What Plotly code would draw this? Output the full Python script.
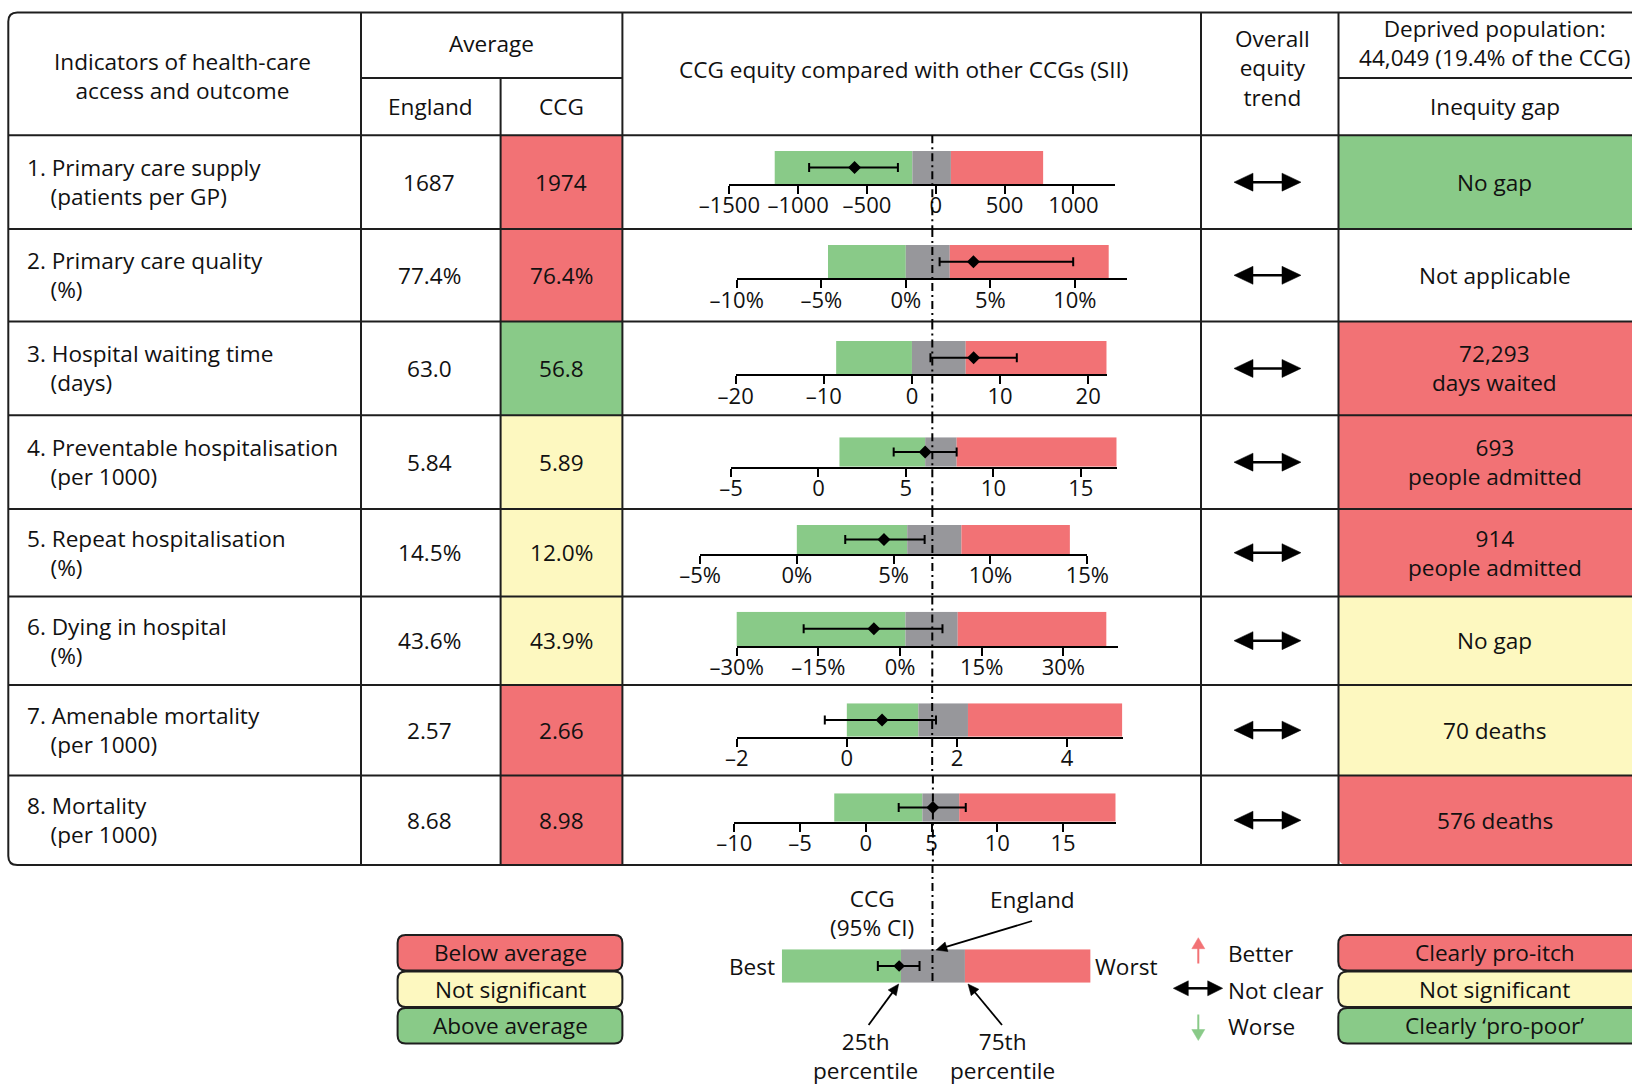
import plotly.graph_objects as go

# ---------------- data ----------------
indicators = ["1. Primary care supply", "2. Primary care quality", "3. Hospital waiting time",
              "4. Preventable hospitalisation", "5. Repeat hospitalisation", "6. Dying in hospital",
              "7. Amenable mortality", "8. Mortality"]
units = ["(patients per GP)", "(%)", "(days)", "(per 1000)", "(%)", "(%)", "(per 1000)", "(per 1000)"]
england_avg = ["1687", "77.4%", "63.0", "5.84", "14.5%", "43.6%", "2.57", "8.68"]
ccg_avg = ["1974", "76.4%", "56.8", "5.89", "12.0%", "43.9%", "2.66", "8.98"]
ccg_status = ["below", "below", "above", "ns", "ns", "ns", "below", "below"]

# SII distribution across CCGs (best .. 25th .. 75th .. worst), England and CCG with 95% CI
sii_best = [-1170, -4.6, -8.6, 1.2, 0.0, -30.3, 0.0, -2.4]
sii_p25 = [-170, 0.0, 0.0, 6.1, 5.7, 1.0, 1.3, 4.3]
sii_p75 = [110, 2.6, 6.1, 7.9, 8.5, 10.6, 2.2, 7.1]
sii_worst = [780, 12.0, 22.1, 17.05, 14.1, 37.9, 5.0, 19.0]
sii_england = [-25, 1.57, 2.31, 6.51, 7.0, 5.93, 1.55, 5.1]
sii_ccg = [-590, 4.0, 7.0, 6.1, 4.5, -4.8, 0.64, 5.1]
sii_ccg_lo = [-920, 2.0, 2.1, 4.3, 2.5, -17.7, -0.4, 2.5]
sii_ccg_hi = [-275, 9.9, 11.9, 7.9, 6.6, 7.8, 1.62, 7.6]

axis_lo = [-1500, -10, -20, -5, -5, -30, -2, -10]
axis_hi = [1300, 13.1, 22.1, 17.05, 15, 40.1, 5.01, 19]
tick_vals = [[-1500, -1000, -500, 0, 500, 1000], [-10, -5, 0, 5, 10], [-20, -10, 0, 10, 20],
             [-5, 0, 5, 10, 15], [-5, 0, 5, 10, 15], [-30, -15, 0, 15, 30], [-2, 0, 2, 4],
             [-10, -5, 0, 5, 10, 15]]
tick_suffix = ["", "%", "", "", "%", "%", "", ""]

trend = ["not clear"] * 8
gap_text = [["No gap"], ["Not applicable"], ["72,293", "days waited"], ["693", "people admitted"],
            ["914", "people admitted"], ["No gap"], ["70 deaths"], ["576 deaths"]]
gap_status = ["pro-poor", "na", "pro-rich", "pro-rich", "pro-rich", "ns", "ns", "pro-rich"]

# legend example bar (schematic scale 0..100)
leg_best, leg_p25, leg_p75, leg_worst = 0, 38.6, 59.3, 100
leg_england, leg_ccg, leg_ccg_lo, leg_ccg_hi = 48.8, 38.0, 31.1, 44.6

# ---------------- style / layout ----------------
W, H = 1632, 1085
FONT = "Open Sans"
FS = 22.6
TFS = 22
TXT = "#111111"
RED, GREEN, YELLOW, GRAY = "#F27275", "#89CA88", "#FDF8C0", "#97979B"
BORDER = "#1e1e1e"
status_color = {"below": RED, "above": GREEN, "ns": YELLOW}
gap_color = {"pro-rich": RED, "pro-poor": GREEN, "ns": YELLOW, "na": None}

T_TOP, T_BOT, T_LEFT, RIGHT = 12.5, 865, 8.3, 1660
COLS = [361, 500.6, 622.4, 1201, 1338.5]
SUB_Y, HEAD_BOT = 78, 135.3
ROWS = [135.3, 229, 321.6, 415.3, 509, 596.4, 684.9, 775.4, 865]
AX_DOM = [(729.3, 1114.7), (736.7, 1127.3), (735.7, 1106.7), (731, 1116.7),
          (700, 1087.3), (736.7, 1118.3), (736.7, 1122.7), (734.3, 1115.7)]
BAR_Y = [(184, 151), (278.3, 245), (374.3, 341), (466.7, 437.3),
         (554, 525), (646, 611.7), (736.7, 703.3), (821.7, 793.3)]
NB = "\u00a0"


def X(x):
    return x / W


def Y(y):
    return 1 - y / H


shapes, annotations = [], []


def line(x0, y0, x1, y1, w=2, color=BORDER, dash=None, layer="above"):
    ln = dict(color=color, width=w)
    if dash:
        ln["dash"] = dash
    shapes.append(dict(type="line", xref="paper", yref="paper", x0=X(x0), y0=Y(y0),
                       x1=X(x1), y1=Y(y1), line=ln, layer=layer))


def rect(x0, y0, x1, y1, fill):
    shapes.append(dict(type="rect", xref="paper", yref="paper", x0=X(x0), y0=Y(y0),
                       x1=X(x1), y1=Y(y1), fillcolor=fill, line=dict(width=0), layer="below"))


def P(x, y):
    return f"{X(x):.6f},{Y(y):.6f}"


def rounded(x0, y0, x1, y1, r, fill, border=True, corners=(1, 1, 1, 1), layer="below"):
    tl, tr, br, bl = corners
    d = []
    d.append("M " + P(x0 + r * tl, y0))
    d.append("L " + P(x1 - r * tr, y0))
    if tr:
        d.append("Q " + P(x1, y0) + " " + P(x1, y0 + r))
    d.append("L " + P(x1, y1 - r * br))
    if br:
        d.append("Q " + P(x1, y1) + " " + P(x1 - r, y1))
    d.append("L " + P(x0 + r * bl, y1))
    if bl:
        d.append("Q " + P(x0, y1) + " " + P(x0, y1 - r))
    d.append("L " + P(x0, y0 + r * tl))
    if tl:
        d.append("Q " + P(x0, y0) + " " + P(x0 + r, y0))
    d.append("Z")
    shapes.append(dict(type="path", xref="paper", yref="paper", path=" ".join(d),
                       fillcolor=fill, line=dict(color=BORDER, width=2 if border else 0),
                       layer=layer))


def head(tx, ty, dx, dy, length, hw, color):
    bx, by = tx - dx * length, ty - dy * length
    nx, ny = -dy, dx
    pts = [(tx, ty), (bx + nx * hw, by + ny * hw), (bx - nx * hw, by - ny * hw)]
    shapes.append(dict(type="path", xref="paper", yref="paper",
                       path="M " + " L ".join(P(a, b) for a, b in pts) + " Z",
                       fillcolor=color, line=dict(color=color, width=0.5), layer="above"))


def arrow(x0, y0, x1, y1, color="#000", w=2, hl=10, hw=5, both=False):
    L = ((x1 - x0) ** 2 + (y1 - y0) ** 2) ** 0.5
    dx, dy = (x1 - x0) / L, (y1 - y0) / L
    sx, sy = (x0 + dx * hl * 0.8, y0 + dy * hl * 0.8) if both else (x0, y0)
    line(sx, sy, x1 - dx * hl * 0.8, y1 - dy * hl * 0.8, w=w, color=color)
    head(x1, y1, dx, dy, hl, hw, color)
    if both:
        head(x0, y0, -dx, -dy, hl, hw, color)


def txt(x, y, s, size=FS, anchor="center", align="center"):
    annotations.append(dict(x=X(x), y=Y(y), xref="paper", yref="paper", text=s,
                            showarrow=False, xanchor=anchor, yanchor="middle", borderpad=0,
                            align=align, font=dict(family=FONT, size=size, color=TXT)))


# ---------------- table ----------------
for i in range(8):
    r0, r1 = ROWS[i], ROWS[i + 1]
    rect(COLS[1], r0, COLS[2], r1, status_color[ccg_status[i]])
    gc = gap_color[gap_status[i]]
    if gc:
        if i == 7:
            rounded(COLS[4], r0, RIGHT, r1, 9, gc, border=False, corners=(0, 0, 0, 1))
        else:
            rect(COLS[4], r0, RIGHT, r1, gc)

# outer border with rounded left corners
rr = 9
shapes.append(dict(type="path", xref="paper", yref="paper", layer="above",
                   path=("M " + P(RIGHT, T_TOP) + " L " + P(T_LEFT + rr, T_TOP) + " Q " + P(T_LEFT, T_TOP)
                         + " " + P(T_LEFT, T_TOP + rr) + " L " + P(T_LEFT, T_BOT - rr) + " Q "
                         + P(T_LEFT, T_BOT) + " " + P(T_LEFT + rr, T_BOT) + " L " + P(RIGHT, T_BOT)),
                   line=dict(color=BORDER, width=2)))
for c in [COLS[0], COLS[2], COLS[3], COLS[4]]:
    line(c, T_TOP, c, T_BOT)
line(COLS[1], SUB_Y, COLS[1], T_BOT)
line(COLS[0], SUB_Y, COLS[2], SUB_Y)
line(COLS[4], SUB_Y, RIGHT, SUB_Y)
for y in ROWS[:-1]:
    line(T_LEFT, y, RIGHT, y)

# header text
txt(182, 75.5, "Indicators of health-care<br>access and outcome")
txt(491.5, 43.7, "Average")
txt(430, 106, "England")
txt(561, 106, "CCG")
txt(903.5, 69.7, "CCG equity compared with other CCGs (SII)")
txt(1272, 67.7, "Overall<br>equity<br>trend")
txt(1494.6, 43, "Deprived population:<br>44,049 (19.4% of the CCG)")
txt(1494.6, 106, "Inequity gap")

# row text
for i in range(8):
    cy = (ROWS[i] + ROWS[i + 1]) / 2
    txt(26, cy, indicators[i] + "<br>" + NB * 4 + units[i], anchor="left", align="left")
    txt(429, cy, england_avg[i])
    txt(561, cy, ccg_avg[i])
    txt(1494.6, cy, "<br>".join(gap_text[i]))
    if trend[i] == "not clear":
        arrow(1234, cy, 1301, cy, color="#000", w=2.5, hl=19, hw=9, both=True)

# ---------------- SII mini charts ----------------
fig = go.Figure()
layout_axes = {}


def fmt(v, suf):
    s = f"{abs(v):g}{suf}"
    return ("–" + s) if v < 0 else s


for i in range(8):
    k = i + 1
    xa, ya = f"x{k}", f"y{k}"
    fig.add_trace(go.Bar(
        orientation="h", y=[0, 0, 0],
        x=[sii_p25[i] - sii_best[i], sii_p75[i] - sii_p25[i], sii_worst[i] - sii_p75[i]],
        base=[sii_best[i], sii_p25[i], sii_p75[i]], width=1,
        marker=dict(color=[GREEN, GRAY, RED], line=dict(width=0)),
        xaxis=xa, yaxis=ya, showlegend=False, hoverinfo="skip"))
    fig.add_trace(go.Scatter(
        x=[sii_ccg[i]], y=[0], mode="markers",
        marker=dict(symbol="diamond", size=10, color="#000"),
        error_x=dict(type="data", symmetric=False, array=[sii_ccg_hi[i] - sii_ccg[i]],
                     arrayminus=[sii_ccg[i] - sii_ccg_lo[i]], width=4.5, thickness=2, color="#000"),
        xaxis=xa, yaxis=ya, showlegend=False, hoverinfo="skip"))
    d0, d1 = AX_DOM[i]
    yb, yt = BAR_Y[i]
    layout_axes[f"xaxis{k}"] = dict(
        domain=[X(d0), X(d1)], range=[axis_lo[i], axis_hi[i]], anchor=ya,
        tickvals=tick_vals[i], ticktext=[fmt(v, tick_suffix[i]) for v in tick_vals[i]],
        ticks="outside", ticklen=8, tickwidth=2, tickcolor="#000", ticklabelstandoff=-7,
        showline=True, linewidth=2, linecolor="#000", showgrid=False, zeroline=False,
        automargin=False,
        tickfont=dict(family=FONT, size=TFS, color=TXT), fixedrange=True)
    layout_axes[f"yaxis{k}"] = dict(domain=[Y(yb), Y(yt)], range=[-0.5, 0.5], anchor=xa,
                                    visible=False, fixedrange=True, automargin=False)
    # England reference line for this row
    shapes.append(dict(type="line", xref=xa, yref="paper", x0=sii_england[i], x1=sii_england[i],
                       y0=Y(ROWS[i]), y1=Y(ROWS[i + 1]), layer="above",
                       line=dict(color="#000", width=2, dash="8px,4px,2px,4px")))

# legend example chart
fig.add_trace(go.Bar(
    orientation="h", y=[0, 0, 0],
    x=[leg_p25 - leg_best, leg_p75 - leg_p25, leg_worst - leg_p75],
    base=[leg_best, leg_p25, leg_p75], width=1,
    marker=dict(color=[GREEN, GRAY, RED], line=dict(width=0)),
    xaxis="x9", yaxis="y9", showlegend=False, hoverinfo="skip"))
fig.add_trace(go.Scatter(
    x=[leg_ccg], y=[0], mode="markers", marker=dict(symbol="diamond", size=9, color="#000"),
    error_x=dict(type="data", symmetric=False, array=[leg_ccg_hi - leg_ccg],
                 arrayminus=[leg_ccg - leg_ccg_lo], width=5, thickness=2, color="#000"),
    xaxis="x9", yaxis="y9", showlegend=False, hoverinfo="skip"))
layout_axes["xaxis9"] = dict(domain=[X(781.8), X(1090.6)], range=[0, 100], anchor="y9",
                             visible=False, fixedrange=True, automargin=False)
layout_axes["yaxis9"] = dict(domain=[Y(982.7), Y(949.3)], range=[-0.5, 0.5], anchor="x9",
                             visible=False, fixedrange=True, automargin=False)
shapes.append(dict(type="line", xref="x9", yref="paper", x0=leg_england, x1=leg_england,
                   y0=Y(865), y1=Y(982.7), layer="above",
                   line=dict(color="#000", width=2, dash="8px,4px,2px,4px")))

# ---------------- legends ----------------
# left: CCG average status
rounded(397.6, 935, 622.4, 970.5, 8, RED)
rounded(397.6, 971.5, 622.4, 1007, 8, YELLOW)
rounded(397.6, 1008, 622.4, 1043.5, 8, GREEN)
txt(510, 952.5, "Below average")
txt(510, 989, "Not significant")
txt(510, 1025.5, "Above average")

# middle: example bar annotations
txt(872, 912.5, "CCG<br>(95% CI)")
txt(1032, 899, "England")
txt(776, 966, "Best", anchor="right")
txt(1094, 966, "Worst", anchor="left")
txt(865, 1056, "25th<br>percentile")
txt(1002, 1056, "75th<br>percentile")
arrow(1032, 921, 936, 950, w=1.8, hl=11, hw=5)
arrow(868.6, 1025, 898.7, 984, w=1.8, hl=11, hw=5)
arrow(1002, 1025, 968, 984, w=1.8, hl=11, hw=5)

# trend legend
arrow(1198.3, 963.5, 1198.3, 937.7, color=RED, w=2, hl=11, hw=6.5)
arrow(1173.3, 988.3, 1222.7, 988.3, color="#000", w=2.5, hl=15, hw=7.5, both=True)
arrow(1198.3, 1014.5, 1198.3, 1040.5, color=GREEN, w=2, hl=11, hw=6.5)
txt(1227, 954, "Better", anchor="left")
txt(1227, 990, "Not clear", anchor="left")
txt(1227, 1026, "Worse", anchor="left")

# right: inequity gap legend
rounded(1338.3, 935, RIGHT, 970.5, 9, RED, corners=(1, 0, 0, 1))
rounded(1338.3, 971.5, RIGHT, 1007, 9, YELLOW, corners=(1, 0, 0, 1))
rounded(1338.3, 1008, RIGHT, 1043.5, 9, GREEN, corners=(1, 0, 0, 1))
txt(1494.7, 952.5, "Clearly pro-itch")
txt(1494.7, 989, "Not significant")
txt(1494.7, 1025.5, "Clearly \u2018pro-poor\u2019")

fig.update_layout(
    width=W, height=H, margin=dict(l=0, r=0, t=0, b=0, pad=0, autoexpand=False),
    autosize=False,
    paper_bgcolor="white", plot_bgcolor="rgba(0,0,0,0)",
    barmode="overlay", showlegend=False,
    shapes=shapes, annotations=annotations,
    font=dict(family=FONT, size=FS, color=TXT),
    **layout_axes)

fig.write_html("out.html", config={"displayModeBar": False},
               post_script="document.body.style.margin='0';document.body.style.padding='0';")
